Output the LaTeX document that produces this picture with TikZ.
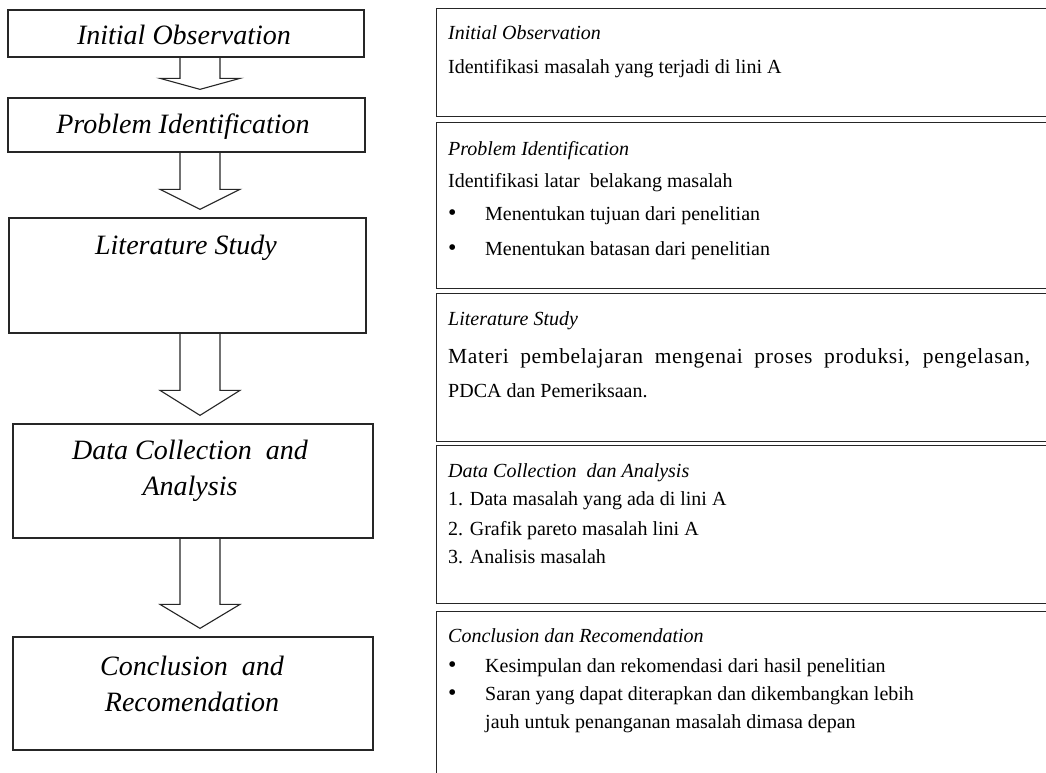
\documentclass[tikz,border=0pt]{standalone}
\usepackage{fontspec}
\setmainfont{Liberation Serif}
\usetikzlibrary{calc}

\newcommand{\bul}{\makebox[37pt][l]{\fontsize{24}{24}\selectfont\textbullet}}
% block arrow between two boxes: from, to, head length
\newcommand{\blockarrow}[3]{%
  \draw[flowarrow] let \p1=(#1.south), \p2=(#2.north) in
    (180pt,\y1) -- (180pt,{\y2+8pt+#3pt}) -- (160pt,{\y2+8pt+#3pt})
    -- (200pt,{\y2+8pt}) -- (240pt,{\y2+8pt+#3pt}) -- (220pt,{\y2+8pt+#3pt})
    -- (220pt,\y1);}

\begin{document}
\begin{tikzpicture}[x=1pt,y=-1pt,
    lbox/.style={draw=black!85,line width=1.3pt,inner sep=0pt},
    rbox/.style={draw=black!85,line width=1.3pt,inner sep=0pt,anchor=north west,
                 minimum width=640pt},
    ltext/.style={font=\fontsize{28}{36}\selectfont\itshape,align=center,inner sep=0pt},
    rhead/.style={anchor=base west,inner sep=0pt,font=\fontsize{20}{24}\selectfont\itshape},
    rtext/.style={anchor=base west,inner sep=0pt,font=\fontsize{20}{24}\selectfont},
    flowarrow/.style={draw=black!85,line width=1.1pt,line join=miter}
  ]
  \clip (0,0) rectangle (1046,772);
  \fill[white] (0,0) rectangle (1046,772);

  % left column
  \node[lbox,minimum width=356pt,minimum height=47pt] (obs) at (186,33.5) {};
  \node[lbox,minimum width=357pt,minimum height=54pt] (prob) at (186.5,125) {};
  \node[lbox,minimum width=357pt,minimum height=115pt] (lit) at (187.5,275.5) {};
  \node[lbox,minimum width=360pt,minimum height=114pt] (data) at (193,481) {};
  \node[lbox,minimum width=360pt,minimum height=113pt] (conc) at (193,693.5) {};

  \node[ltext] (obs-t) at (184,35) {Initial Observation};
  \node[ltext] (prob-t) at (183,127) {Problem Identification};
  \node[ltext] (lit-t) at (186,248) {Literature Study};
  \node[ltext] (data-t) at (190,471) {Data Collection\ \ and\\Analysis};
  \node[ltext] (conc-t) at (192,684) {Conclusion\ \ and\\Recomendation};

  \blockarrow{obs}{prob}{11}
  \blockarrow{prob}{lit}{20}
  \blockarrow{lit}{data}{25}
  \blockarrow{data}{conc}{24}

  % right column
  \node[rbox,minimum height=108pt] (robs) at (436,8) {};
  \node[rbox,minimum height=166pt] (rprob) at (436,122) {};
  \node[rbox,minimum height=148pt] (rlit) at (436,293) {};
  \node[rbox,minimum height=158pt] (rdata) at (436,445) {};
  \node[rbox,minimum height=189pt] (rconc) at (436,611) {};

  \node[rhead] (robs-h) at (448,39) {Initial Observation};
  \node[rtext] (robs-1) at (448,73) {Identifikasi masalah yang terjadi di lini A};

  \node[rhead] (rprob-h) at (448,155) {Problem Identification};
  \node[rtext] (rprob-1) at (448,187) {Identifikasi latar\ \ belakang masalah};
  \node[rtext] (rprob-2) at (448,220) {\bul Menentukan tujuan dari penelitian};
  \node[rtext] (rprob-3) at (448,255) {\bul Menentukan batasan dari penelitian};

  \node[rhead] (rlit-h) at (448,325) {Literature Study};
  \node[rtext,font=\fontsize{21.5}{24}\selectfont\addfontfeature{LetterSpace=3}] (rlit-1) at (448,363)
    {\makebox[582pt][s]{Materi pembelajaran mengenai proses produksi, pengelasan,}};
  \node[rtext] (rlit-2) at (448,397) {PDCA dan Pemeriksaan.};

  \node[rhead] (rdata-h) at (448,477) {Data Collection\ \ dan Analysis};
  \node[rtext] (rdata-1) at (448,505) {1. Data masalah yang ada di lini A};
  \node[rtext] (rdata-2) at (448,535) {2. Grafik pareto masalah lini A};
  \node[rtext] (rdata-3) at (448,563) {3. Analisis masalah};

  \node[rhead] (rconc-h) at (448,642) {Conclusion dan Recomendation};
  \node[rtext] (rconc-1) at (448,672) {\bul Kesimpulan dan rekomendasi dari hasil penelitian};
  \node[rtext] (rconc-2) at (448,700) {\bul Saran yang dapat diterapkan dan dikembangkan lebih};
  \node[rtext] (rconc-3) at (485,728) {jauh untuk penanganan masalah dimasa depan};
\end{tikzpicture}
\end{document}
